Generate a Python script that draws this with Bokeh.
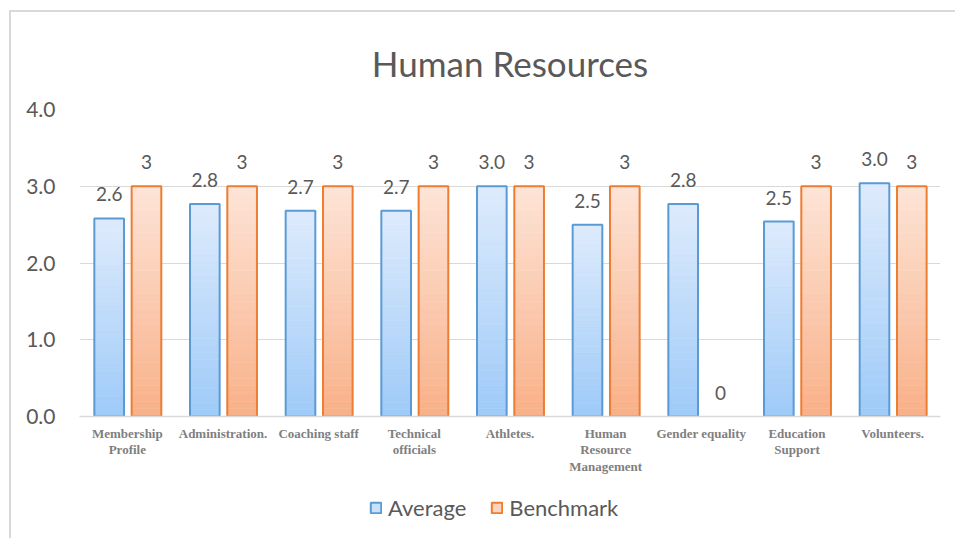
import numpy as np
from bokeh.plotting import figure
from bokeh.layouts import column
from bokeh.models import (ColumnDataSource, FactorRange, Range1d, Legend, LegendItem,
                          LabelSet, FixedTicker, NumeralTickFormatter)
from bokeh.transform import dodge
from bokeh.core.properties import value
from bokeh.embed import file_html
from bokeh.resources import INLINE

# ---------------- data ----------------
categories = ["Membership\nProfile", "Administration.", "Coaching staff", "Technical\nofficials",
              "Athletes.", "Human\nResource\nManagement", "Gender equality", "Education\nSupport",
              "Volunteers."]
average = [2.58, 2.77, 2.68, 2.68, 3.00, 2.50, 2.77, 2.54, 3.04]
benchmark = [3, 3, 3, 3, 3, 3, 0, 3, 3]
y_ticks = [0, 1, 2, 3, 4]
series_names = ["Average", "Benchmark"]

# ---------------- styles ----------------
GRAY_TEXT = "#595959"
GRID = "#d9d9d9"
BLUE_LINE, ORANGE_LINE = "#5b9bd5", "#ed7d31"
BLUE_TOP, BLUE_BOT = (222, 235, 252), (158, 202, 248)
ORANGE_TOP, ORANGE_BOT = (253, 228, 215), (249, 176, 136)
OFF_A, OFF_B, BAR_W = -0.19, 0.20, 0.31
NSLICE = 30

p = figure(x_range=FactorRange(*categories), y_range=Range1d(0, 4),
           width=944, height=468, output_backend="svg", toolbar_location=None,
           min_border_left=68, min_border_right=15, min_border_top=97, min_border_bottom=64)
p.outline_line_color = None
p.background_fill_color = "white"

p.title.text = "Human Resources"
p.title.align = "center"
p.title.text_font = "Lato"
p.title.text_font_size = "35px"
p.title.text_font_style = "normal"
p.title.text_color = GRAY_TEXT
p.title.standoff = 52


def hexcol(c):
    return "#%02x%02x%02x" % tuple(int(round(v)) for v in c)


def gradient_source(vals, top_c, bot_c):
    xs, bots, tops, cols = [], [], [], []
    for c, v in zip(categories, vals):
        for k in range(NSLICE):
            t = (k + 0.5) / NSLICE
            col = [b + (tc - b) * t for b, tc in zip(bot_c, top_c)]
            xs.append(c)
            bots.append(v * k / NSLICE)
            tops.append(v * (k + 1) / NSLICE)
            cols.append(hexcol(col))
    return ColumnDataSource(dict(x=xs, bottom=bots, top=tops, color=cols))


series = [(average, OFF_A, BLUE_TOP, BLUE_BOT, BLUE_LINE),
          (benchmark, OFF_B, ORANGE_TOP, ORANGE_BOT, ORANGE_LINE)]
for vals, off, top_c, bot_c, lc in series:
    nz = [(c, v) for c, v in zip(categories, vals) if v > 0]
    src = ColumnDataSource(dict(x=[c for c, _ in nz], top=[v for _, v in nz]))
    gsrc = gradient_source(vals, top_c, bot_c)
    p.vbar(x=dodge("x", off, range=p.x_range), top="top", bottom="bottom", width=BAR_W,
           source=gsrc, fill_color="color", line_color="color", line_width=0.6)
    p.vbar(x=dodge("x", off, range=p.x_range), top="top", bottom=0, width=BAR_W,
           source=src, fill_alpha=0, line_color=lc, line_width=2)

# data labels
lab_src = ColumnDataSource(dict(
    x=categories, avg=average, bench=benchmark,
    avg_text=["%.1f" % v for v in average],
    bench_text=["%d" % v for v in benchmark]))
for col, txt, off in [("avg", "avg_text", OFF_A), ("bench", "bench_text", OFF_B)]:
    ls = LabelSet(x=dodge("x", off, range=p.x_range), y=col, text=txt, source=lab_src,
                  text_align="center", text_baseline="middle", y_offset=24,
                  text_font=value("Lato"), text_font_size="19px", text_color=GRAY_TEXT)
    p.add_layout(ls)

# axes
p.yaxis.ticker = FixedTicker(ticks=y_ticks)
p.yaxis.formatter = NumeralTickFormatter(format="0.0")
p.yaxis.axis_line_color = None
p.yaxis.major_tick_line_color = None
p.yaxis.minor_tick_line_color = None
p.yaxis.major_label_text_font = "Lato"
p.yaxis.major_label_text_font_size = "21px"
p.yaxis.major_label_text_color = GRAY_TEXT
p.yaxis.major_label_standoff = 18

p.xaxis.axis_line_color = GRID
p.xaxis.axis_line_width = 1.5
p.xaxis.major_tick_line_color = None
p.xaxis.minor_tick_line_color = None
p.xaxis.major_label_text_font = "Liberation Serif"
p.xaxis.major_label_text_font_style = "bold"
p.xaxis.major_label_text_font_size = "13px"
p.xaxis.major_label_text_color = "#7f7f7f"
p.xaxis.major_label_text_line_height = 1.1
p.xaxis.major_label_standoff = 3

p.xgrid.grid_line_color = None
p.ygrid.grid_line_color = GRID
p.ygrid.grid_line_width = 1

# ---------------- legend strip ----------------
pl = figure(x_range=Range1d(0, 1), y_range=Range1d(0, 1), width=944, height=58,
            output_backend="svg", toolbar_location=None,
            min_border=0, min_border_left=0, min_border_right=0, min_border_top=0,
            min_border_bottom=0)
pl.outline_line_color = None
pl.axis.visible = False
pl.grid.visible = False
leg_renderers = []
for (vals, off, top_c, bot_c, lc) in series:
    mid = hexcol([a * 0.7 + b * 0.3 for a, b in zip(top_c, bot_c)])
    # hidden proxy renderer: only supplies the legend key's colours
    r = pl.vbar(x=[0.5], top=[vals[0]], width=0.1, fill_color=mid, line_color=lc,
                line_width=2, visible=False)
    leg_renderers.append(r)

legend = Legend(items=[LegendItem(label=n, renderers=[r]) for n, r in zip(series_names, leg_renderers)],
                orientation="horizontal", location=(290, 17),
                label_text_font="Lato", label_text_font_size="22px", label_text_color=GRAY_TEXT,
                glyph_width=13, glyph_height=13, label_standoff=6, spacing=24,
                inactive_fill_alpha=0,
                border_line_color=None, background_fill_alpha=0, margin=0, padding=4)
pl.add_layout(legend)

layout = column(p, pl, spacing=0,
                styles={"margin-left": "9px", "margin-top": "10px",
                        "border-left": "2px solid #d9d9d9", "border-top": "2px solid #d9d9d9"})

open("out.html", "w").write(file_html(layout, INLINE))
